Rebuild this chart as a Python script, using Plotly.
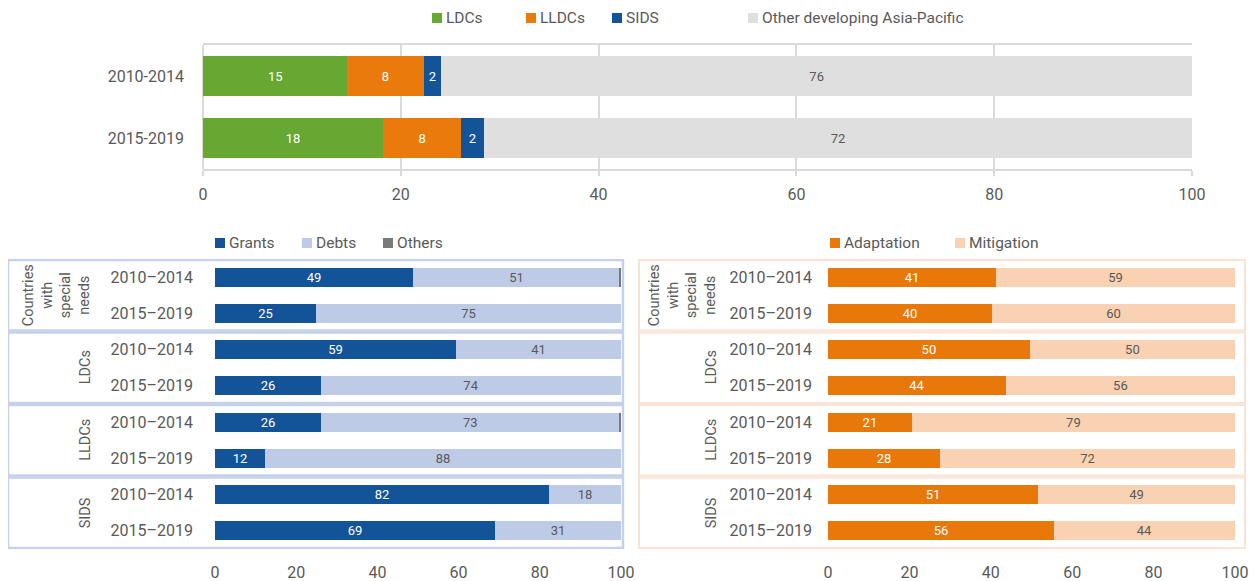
import plotly.graph_objects as go

# ---------------- data ----------------
periods_top = ["2010-2014", "2015-2019"]
ldc_share = [14.6, 18.2]
lldc_share = [7.7, 7.9]
sids_share = [1.8, 2.3]
other_share = [75.9, 71.6]
ldc_lbl = ["15", "18"]
lldc_lbl = ["8", "8"]
sids_lbl = ["2", "2"]
other_lbl = ["76", "72"]

groups = ["Countries<br>with<br>special<br>needs", "LDCs", "LLDCs", "SIDS"]
periods_bottom = ["2010–2014", "2015–2019"]

grants = [48.8, 24.9, 59.4, 26.1, 26.1, 12.3, 82.3, 69.0]
debts = [50.9, 75.1, 40.6, 73.9, 73.6, 87.7, 17.7, 31.0]
others = [0.3, 0.0, 0.0, 0.0, 0.3, 0.0, 0.0, 0.0]
grants_lbl = ["49", "25", "59", "26", "26", "12", "82", "69"]
debts_lbl = ["51", "75", "41", "74", "73", "88", "18", "31"]

adaptation = [41.3, 40.3, 49.6, 43.7, 20.6, 27.5, 51.6, 55.5]
mitigation = [58.7, 59.7, 50.4, 56.3, 79.4, 72.5, 48.4, 44.5]
adapt_lbl = ["41", "40", "50", "44", "21", "28", "51", "56"]
mitig_lbl = ["59", "60", "50", "56", "79", "72", "49", "44"]

x_ticks = [0, 20, 40, 60, 80, 100]

# ---------------- style ----------------
FONT = "Roboto"
TXT = "#595959"
W, H = 1257, 581
OFF = 8  # page body margin offset
C_LDC, C_LLDC, C_SIDS, C_OTHER = "#67a833", "#e97a0b", "#135499", "#e0dfdf"
C_GRANT, C_DEBT, C_OTH = "#135499", "#bdcbe7", "#7a7a7a"
C_ADAPT, C_MITIG = "#e8780a", "#f9d2b3"
BOX_L, BOX_R = "#c5d1ea", "#fbe3d3"
BOTTOM_BAR_WIDTH = 0.52


def px(x):
    return (x - OFF) / W


def py(y):
    return 1 - (y - OFF) / H


rows = [f"{g}|{p}" for g in range(len(groups)) for p in range(len(periods_bottom))]
ypos = list(range(len(rows)))
row_text = [periods_bottom[i % len(periods_bottom)] for i in ypos]

fig = go.Figure()


def add_bar(x, y, name, color, labels, xa, ya, tcolor, width=None):
    fig.add_trace(go.Bar(
        x=x, y=y, orientation="h", name=name, marker=dict(color=color, line=dict(width=0)),
        text=labels, textposition="inside" if labels else "none", insidetextanchor="middle",
        textangle=0, textfont=dict(color=tcolor, size=13, family=FONT),
        xaxis=xa, yaxis=ya, showlegend=False, cliponaxis=False, width=width,
    ))


# top chart
add_bar(ldc_share, periods_top, "LDCs", C_LDC, ldc_lbl, "x", "y", "white")
add_bar(lldc_share, periods_top, "LLDCs", C_LLDC, lldc_lbl, "x", "y", "white")
add_bar(sids_share, periods_top, "SIDS", C_SIDS, sids_lbl, "x", "y", "white")
add_bar(other_share, periods_top, "Other developing Asia-Pacific", C_OTHER, other_lbl, "x", "y", TXT)

# bottom left
add_bar(grants, ypos, "Grants", C_GRANT, grants_lbl, "x2", "y2", "white", BOTTOM_BAR_WIDTH)
add_bar(debts, ypos, "Debts", C_DEBT, debts_lbl, "x2", "y2", TXT, BOTTOM_BAR_WIDTH)
add_bar(others, ypos, "Others", C_OTH, None, "x2", "y2", TXT, BOTTOM_BAR_WIDTH)

# bottom right
add_bar(adaptation, ypos, "Adaptation", C_ADAPT, adapt_lbl, "x3", "y3", "white", BOTTOM_BAR_WIDTH)
add_bar(mitigation, ypos, "Mitigation", C_MITIG, mitig_lbl, "x3", "y3", TXT, BOTTOM_BAR_WIDTH)

tickfont = dict(family=FONT, size=16, color=TXT)

fig.update_layout(
    width=W, height=H, margin=dict(l=0, r=0, t=0, b=0, autoexpand=False),
    paper_bgcolor="white", plot_bgcolor="white",
    barmode="stack", bargap=0.35, showlegend=False,
    font=dict(family=FONT, color=TXT),
    uniformtext=dict(minsize=12, mode="show"),
    xaxis=dict(domain=[px(203), px(1192)], range=[0, 100], tickvals=x_ticks,
               showgrid=True, gridcolor="#d9d9d9", gridwidth=2,
               zeroline=True, zerolinecolor="#d9d9d9", zerolinewidth=2,
               showline=True, linecolor="#d9d9d9", linewidth=2, mirror=True,
               ticks="outside", ticklen=5, tickcolor="#d9d9d9", tickwidth=2,
               tickfont=tickfont, ticklabelstandoff=5, anchor="y", automargin=False),
    yaxis=dict(domain=[py(169), py(45)], autorange="reversed", anchor="x",
               tickfont=tickfont, ticklabelstandoff=18, showgrid=False, automargin=False),
    xaxis2=dict(domain=[px(215), px(621)], range=[0, 100], tickvals=x_ticks,
                showgrid=False, zeroline=False, showline=False, anchor="y2",
                tickfont=tickfont, ticklabelstandoff=12, automargin=False),
    yaxis2=dict(domain=[py(549), py(259)], range=[len(rows) - 0.5, -0.5], anchor="x2",
                tickvals=ypos, ticktext=row_text, tickfont=tickfont,
                ticklabelstandoff=21, showgrid=False, zeroline=False, automargin=False),
    xaxis3=dict(domain=[px(828), px(1235)], range=[0, 100], tickvals=x_ticks,
                showgrid=False, zeroline=False, showline=False, anchor="y3",
                tickfont=tickfont, ticklabelstandoff=12, automargin=False),
    yaxis3=dict(domain=[py(549), py(259)], range=[len(rows) - 0.5, -0.5], anchor="x3",
                tickvals=ypos, ticktext=row_text, tickfont=tickfont,
                ticklabelstandoff=15, showgrid=False, zeroline=False, automargin=False),
)

shapes = []
annotations = []
glabel_font = dict(family=FONT, size=14.5, color=TXT)

# group boxes and rotated group labels
for g, name in enumerate(groups):
    y0, y1 = 2 * g - 0.47, 2 * g + 1.47
    shapes.append(dict(type="rect", xref="paper", yref="y2", x0=px(8), x1=px(623), y0=y0, y1=y1,
                       line=dict(color=BOX_L, width=2.5), fillcolor="rgba(0,0,0,0)", layer="below"))
    shapes.append(dict(type="rect", xref="paper", yref="y3", x0=px(639), x1=px(1245), y0=y0, y1=y1,
                       line=dict(color=BOX_R, width=2), fillcolor="rgba(0,0,0,0)", layer="below"))
    annotations.append(dict(xref="paper", yref="y2", x=px(96), y=2 * g + 0.5, text=name,
                            textangle=-90, xanchor="right", yanchor="middle", showarrow=False,
                            font=glabel_font))
    annotations.append(dict(xref="paper", yref="y3", x=px(722), y=2 * g + 0.5, text=name,
                            textangle=-90, xanchor="right", yanchor="middle", showarrow=False,
                            font=glabel_font))


# manual legends
def legend_item(xpix, ypix, color, label):
    shapes.append(dict(type="rect", xref="paper", yref="paper",
                       x0=px(xpix), x1=px(xpix + 10), y0=py(ypix + 5), y1=py(ypix - 5),
                       fillcolor=color, line=dict(width=0)))
    annotations.append(dict(xref="paper", yref="paper", x=px(xpix + 12), y=py(ypix), text=label,
                            xanchor="left", yanchor="middle", showarrow=False,
                            font=dict(family=FONT, size=15.5, color=TXT)))


legend_item(432, 18, C_LDC, "LDCs")
legend_item(526, 18, C_LLDC, "LLDCs")
legend_item(612, 18, C_SIDS, "SIDS")
legend_item(748, 18, C_OTHER, "Other developing Asia-Pacific")
legend_item(215, 243, C_GRANT, "Grants")
legend_item(302, 243, C_DEBT, "Debts")
legend_item(383, 243, C_OTH, "Others")
legend_item(830, 243, C_ADAPT, "Adaptation")
legend_item(955, 243, C_MITIG, "Mitigation")

fig.update_layout(shapes=shapes, annotations=annotations)
fig.write_html("out.html")
